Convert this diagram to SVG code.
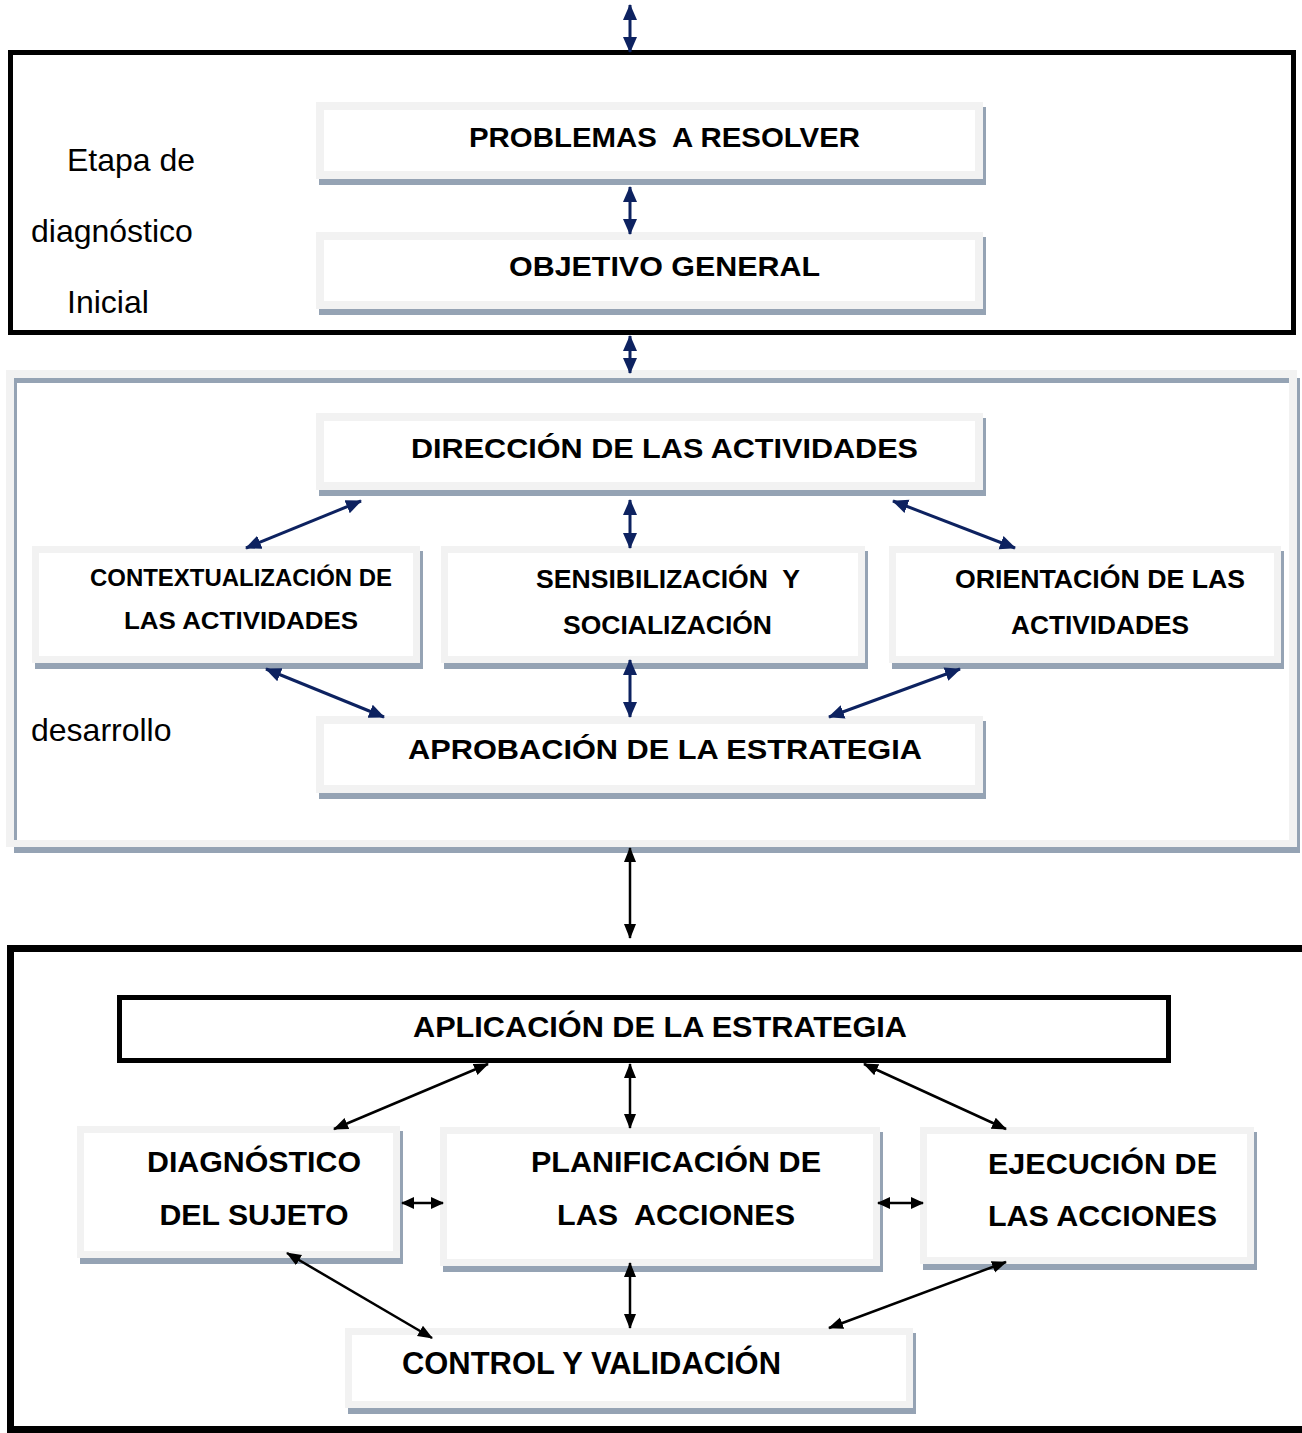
<svg xmlns="http://www.w3.org/2000/svg" width="1302" height="1433" viewBox="0 0 1302 1433">
<style>
.sh{fill:#95a3b4}
.fr{fill:#f2f2f2}
.in{fill:#ffffff}
.t{font-family:"Liberation Sans",Arial,sans-serif;font-weight:bold;fill:#000;text-anchor:middle;white-space:pre}
.lbl{font-family:"Liberation Sans",Arial,sans-serif;font-size:32px;fill:#000}
.nv{stroke:#0d2260;stroke-width:3;fill:none}
.bk{stroke:#000;stroke-width:2.5;fill:none}
.frame{fill:none;stroke:#000}
</style>
<defs>
<marker id="an" markerUnits="userSpaceOnUse" markerWidth="16" markerHeight="16" viewBox="0 0 16 16" refX="15" refY="8" orient="auto-start-reverse">
<path d="M0,1 L16,8 L0,15 z" fill="#0d2260"/>
</marker>
<marker id="ab" markerUnits="userSpaceOnUse" markerWidth="15" markerHeight="14" viewBox="0 0 15 14" refX="14" refY="7" orient="auto-start-reverse">
<path d="M0,1 L15,7 L0,13 z" fill="#000"/>
</marker>
<marker id="as" markerUnits="userSpaceOnUse" markerWidth="13" markerHeight="13" viewBox="0 0 13 13" refX="12" refY="6.5" orient="auto-start-reverse">
<path d="M0,0.5 L13,6.5 L0,12.5 z" fill="#000"/>
</marker>
</defs>
<rect width="1302" height="1433" fill="#fff"/>

<!-- Stage frames -->
<g id="frame-diagnostico">
<rect class="frame" x="10.5" y="52.5" width="1283" height="280" stroke-width="5"/>
<text class="lbl" x="67" y="171">Etapa de</text>
<text class="lbl" x="31" y="242">diagnóstico</text>
<text class="lbl" x="67" y="313">Inicial</text>
</g>
<g id="frame-desarrollo">
<rect class="sh" x="14" y="378" width="1286" height="475"/>
<path class="fr" fill-rule="evenodd" d="M6,370 H1297 V847 H6 Z M14,378 V840 H1289 V378 Z"/>
<rect class="in" x="17" y="383" width="1272" height="457"/>
<text class="lbl" x="31" y="741">desarrollo</text>
</g>
<g id="frame-aplicacion">
<rect class="frame" x="10.5" y="948.5" width="1310" height="481" stroke-width="7"/>
</g>

<!-- Nodes -->
<g id="n-problemas">
<rect class="sh" x="319" y="107" width="667" height="78"/>
<rect class="fr" x="316" y="102" width="667" height="77"/>
<rect class="in" x="324" y="110" width="651" height="61"/>
<text class="t" x="664.5" y="147" font-size="28" textLength="391" lengthAdjust="spacingAndGlyphs">PROBLEMAS  A RESOLVER</text>
</g>
<g id="n-objetivo">
<rect class="sh" x="319" y="237" width="667" height="78"/>
<rect class="fr" x="316" y="232" width="667" height="77"/>
<rect class="in" x="324" y="240" width="651" height="61"/>
<text class="t" x="664.5" y="276" font-size="28" textLength="311" lengthAdjust="spacingAndGlyphs">OBJETIVO GENERAL</text>
</g>
<g id="n-direccion">
<rect class="sh" x="319" y="418" width="667" height="78"/>
<rect class="fr" x="316" y="413" width="667" height="77"/>
<rect class="in" x="324" y="421" width="651" height="61"/>
<text class="t" x="664.5" y="458" font-size="28" textLength="507" lengthAdjust="spacingAndGlyphs">DIRECCIÓN DE LAS ACTIVIDADES</text>
</g>
<g id="n-contextualizacion">
<rect class="sh" x="35" y="551" width="388" height="118"/>
<rect class="fr" x="32" y="546" width="388" height="117"/>
<rect class="in" x="39" y="553" width="374" height="103"/>
<text class="t" x="241" y="585.5" font-size="24" textLength="302" lengthAdjust="spacingAndGlyphs">CONTEXTUALIZACIÓN DE</text>
<text class="t" x="241" y="628.5" font-size="24" textLength="234" lengthAdjust="spacingAndGlyphs">LAS ACTIVIDADES</text>
</g>
<g id="n-sensibilizacion">
<rect class="sh" x="444" y="551" width="424" height="118"/>
<rect class="fr" x="441" y="546" width="424" height="117"/>
<rect class="in" x="448" y="553" width="410" height="103"/>
<text class="t" x="668" y="588" font-size="26" textLength="264" lengthAdjust="spacingAndGlyphs">SENSIBILIZACIÓN  Y</text>
<text class="t" x="667.5" y="634" font-size="26" textLength="209" lengthAdjust="spacingAndGlyphs">SOCIALIZACIÓN</text>
</g>
<g id="n-orientacion">
<rect class="sh" x="892" y="551" width="392" height="118"/>
<rect class="fr" x="889" y="546" width="392" height="117"/>
<rect class="in" x="896" y="553" width="378" height="103"/>
<text class="t" x="1100" y="588" font-size="26" textLength="290" lengthAdjust="spacingAndGlyphs">ORIENTACIÓN DE LAS</text>
<text class="t" x="1100" y="634" font-size="26" textLength="178" lengthAdjust="spacingAndGlyphs">ACTIVIDADES</text>
</g>
<g id="n-aprobacion">
<rect class="sh" x="319" y="721" width="667" height="78"/>
<rect class="fr" x="316" y="716" width="667" height="77"/>
<rect class="in" x="324" y="724" width="651" height="61"/>
<text class="t" x="665" y="759" font-size="28" textLength="514" lengthAdjust="spacingAndGlyphs">APROBACIÓN DE LA ESTRATEGIA</text>
</g>
<g id="n-aplicacion">
<rect x="119.5" y="997.5" width="1049" height="63" fill="#fff" stroke="#000" stroke-width="5"/>
<text class="t" x="660" y="1037" font-size="29" textLength="494" lengthAdjust="spacingAndGlyphs">APLICACIÓN DE LA ESTRATEGIA</text>
</g>
<g id="n-diagnostico">
<rect class="sh" x="80" y="1131" width="323" height="133"/>
<rect class="fr" x="77" y="1126" width="323" height="132"/>
<rect class="in" x="84" y="1133" width="309" height="118"/>
<text class="t" x="254" y="1172" font-size="30" textLength="214" lengthAdjust="spacingAndGlyphs">DIAGNÓSTICO</text>
<text class="t" x="254" y="1225" font-size="30" textLength="189" lengthAdjust="spacingAndGlyphs">DEL SUJETO</text>
</g>
<g id="n-planificacion">
<rect class="sh" x="443" y="1132" width="440" height="140"/>
<rect class="fr" x="440" y="1127" width="440" height="139"/>
<rect class="in" x="447" y="1134" width="426" height="125"/>
<text class="t" x="676" y="1172" font-size="30" textLength="290" lengthAdjust="spacingAndGlyphs">PLANIFICACIÓN DE</text>
<text class="t" x="676" y="1225" font-size="30" textLength="238" lengthAdjust="spacingAndGlyphs">LAS  ACCIONES</text>
</g>
<g id="n-ejecucion">
<rect class="sh" x="923" y="1132" width="334" height="138"/>
<rect class="fr" x="920" y="1127" width="334" height="137"/>
<rect class="in" x="927" y="1134" width="320" height="123"/>
<text class="t" x="1102.5" y="1174" font-size="30" textLength="229" lengthAdjust="spacingAndGlyphs">EJECUCIÓN DE</text>
<text class="t" x="1102.5" y="1226" font-size="30" textLength="229" lengthAdjust="spacingAndGlyphs">LAS ACCIONES</text>
</g>
<g id="n-control">
<rect class="sh" x="348" y="1333" width="568" height="81"/>
<rect class="fr" x="345" y="1328" width="568" height="80"/>
<rect class="in" x="352" y="1335" width="554" height="66"/>
<text class="t" x="591.5" y="1374" font-size="31" textLength="379" lengthAdjust="spacingAndGlyphs">CONTROL Y VALIDACIÓN</text>
</g>

<!-- Connectors -->
<g id="connectors">
<line class="nv" x1="630" y1="5" x2="630" y2="52" marker-start="url(#an)" marker-end="url(#an)"/>
<line class="nv" x1="630" y1="187" x2="630" y2="234" marker-start="url(#an)" marker-end="url(#an)"/>
<line class="nv" x1="630" y1="336" x2="630" y2="373" marker-start="url(#an)" marker-end="url(#an)"/>
<line class="nv" x1="630" y1="500" x2="630" y2="548" marker-start="url(#an)" marker-end="url(#an)"/>
<line class="nv" x1="361" y1="501" x2="246" y2="548" marker-start="url(#an)" marker-end="url(#an)"/>
<line class="nv" x1="893" y1="501" x2="1015" y2="548" marker-start="url(#an)" marker-end="url(#an)"/>
<line class="nv" x1="266" y1="669" x2="384" y2="717" marker-start="url(#an)" marker-end="url(#an)"/>
<line class="nv" x1="630" y1="660" x2="630" y2="717" marker-start="url(#an)" marker-end="url(#an)"/>
<line class="nv" x1="960" y1="669" x2="829" y2="717" marker-start="url(#an)" marker-end="url(#an)"/>
<line class="bk" x1="630" y1="848" x2="630" y2="938" marker-start="url(#ab)" marker-end="url(#ab)"/>
<line class="bk" x1="488" y1="1064" x2="334" y2="1129" marker-start="url(#ab)" marker-end="url(#ab)"/>
<line class="bk" x1="630" y1="1064" x2="630" y2="1128" marker-start="url(#ab)" marker-end="url(#ab)"/>
<line class="bk" x1="864" y1="1064" x2="1006" y2="1129" marker-start="url(#ab)" marker-end="url(#ab)"/>
<line class="bk" x1="402" y1="1203" x2="443" y2="1203" marker-start="url(#as)" marker-end="url(#as)"/>
<line class="bk" x1="878" y1="1203" x2="923" y2="1203" marker-start="url(#as)" marker-end="url(#as)"/>
<line class="bk" x1="287" y1="1253" x2="432" y2="1338" marker-start="url(#ab)" marker-end="url(#ab)"/>
<line class="bk" x1="630" y1="1263" x2="630" y2="1328" marker-start="url(#ab)" marker-end="url(#ab)"/>
<line class="bk" x1="1006" y1="1262" x2="829" y2="1328" marker-start="url(#ab)" marker-end="url(#ab)"/>
</g>
</svg>
